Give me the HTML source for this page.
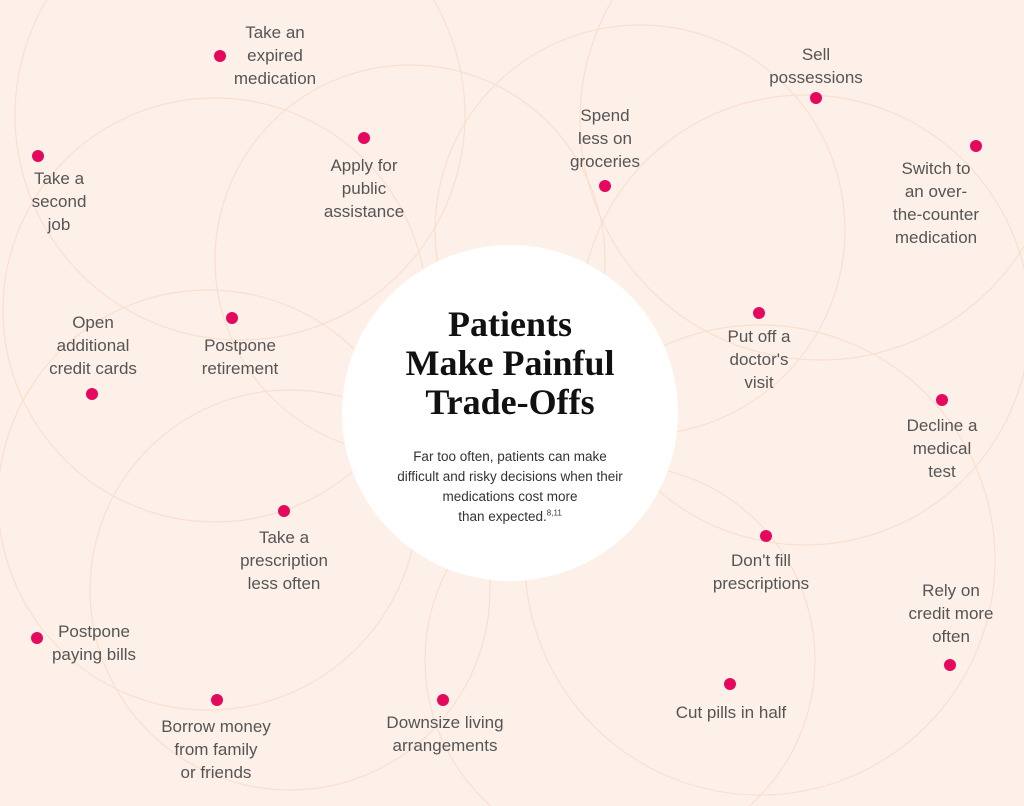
<!DOCTYPE html>
<html style="overflow:hidden"><head><meta charset="utf-8"><style>
html,body{margin:0;width:1024px;height:806px;overflow:hidden;}
body{background:#fdf0e9;font-family:"Liberation Sans",sans-serif;position:relative;}
.l{position:absolute;color:#555;font-size:17px;line-height:23px;text-align:center;transform:translateX(-50%);white-space:nowrap;}
.d{position:absolute;width:12px;height:12px;border-radius:50%;background:#e5095d;margin:-6px 0 0 -6px;}
</style></head><body>
<svg width="1024" height="806" style="position:absolute;left:0;top:0" fill="none" stroke="#fadfcf" stroke-width="1.2">
<circle cx="215" cy="310" r="212"/>
<circle cx="208" cy="500" r="210"/>
<circle cx="410" cy="260" r="195"/>
<circle cx="640" cy="230" r="205"/>
<circle cx="805" cy="320" r="225"/>
<circle cx="760" cy="560" r="235"/>
<circle cx="290" cy="590" r="200"/>
<circle cx="240" cy="115" r="225"/>
<circle cx="620" cy="660" r="195"/>
<circle cx="820" cy="120" r="240"/>
</svg>
<div style="position:absolute;left:342px;top:245px;width:336px;height:336px;border-radius:50%;background:#fff"></div>
<div style="position:absolute;left:342px;top:305px;width:336px;text-align:center;font-family:'Liberation Serif',serif;font-weight:bold;font-size:36px;line-height:39px;color:#111">Patients<br>Make Painful<br>Trade-Offs</div>
<div style="position:absolute;left:342px;top:447px;width:336px;text-align:center;font-size:13.5px;line-height:20px;color:#333">Far too often, patients can make<br>difficult and risky decisions when their<br>medications cost more<br>than expected.<sup style="font-size:8px;line-height:0">8,11</sup></div>

<div class="d" style="left:220px;top:56px"></div><div class="l" style="left:275px;top:21px">Take an<br>expired<br>medication</div>
<div class="d" style="left:38px;top:156px"></div><div class="l" style="left:59px;top:167px">Take a<br>second<br>job</div>
<div class="d" style="left:364px;top:138px"></div><div class="l" style="left:364px;top:154px">Apply for<br>public<br>assistance</div>
<div class="d" style="left:232px;top:318px"></div><div class="l" style="left:240px;top:334px">Postpone<br>retirement</div>
<div class="d" style="left:92px;top:394px"></div><div class="l" style="left:93px;top:311px">Open<br>additional<br>credit cards</div>
<div class="d" style="left:605px;top:186px"></div><div class="l" style="left:605px;top:104px">Spend<br>less on<br>groceries</div>
<div class="d" style="left:816px;top:98px"></div><div class="l" style="left:816px;top:43px">Sell<br>possessions</div>
<div class="d" style="left:976px;top:146px"></div><div class="l" style="left:936px;top:157px">Switch to<br>an over-<br>the-counter<br>medication</div>
<div class="d" style="left:759px;top:313px"></div><div class="l" style="left:759px;top:325px">Put off a<br>doctor's<br>visit</div>
<div class="d" style="left:942px;top:400px"></div><div class="l" style="left:942px;top:414px">Decline a<br>medical<br>test</div>
<div class="d" style="left:766px;top:536px"></div><div class="l" style="left:761px;top:549px">Don't fill<br>prescriptions</div>
<div class="d" style="left:950px;top:665px"></div><div class="l" style="left:951px;top:579px">Rely on<br>credit more<br>often</div>
<div class="d" style="left:730px;top:684px"></div><div class="l" style="left:731px;top:701px">Cut pills in half</div>
<div class="d" style="left:443px;top:700px"></div><div class="l" style="left:445px;top:711px">Downsize living<br>arrangements</div>
<div class="d" style="left:217px;top:700px"></div><div class="l" style="left:216px;top:715px">Borrow money<br>from family<br>or friends</div>
<div class="d" style="left:37px;top:638px"></div><div class="l" style="left:94px;top:620px">Postpone<br>paying bills</div>
<div class="d" style="left:284px;top:511px"></div><div class="l" style="left:284px;top:526px">Take a<br>prescription<br>less often</div>
</body></html>
